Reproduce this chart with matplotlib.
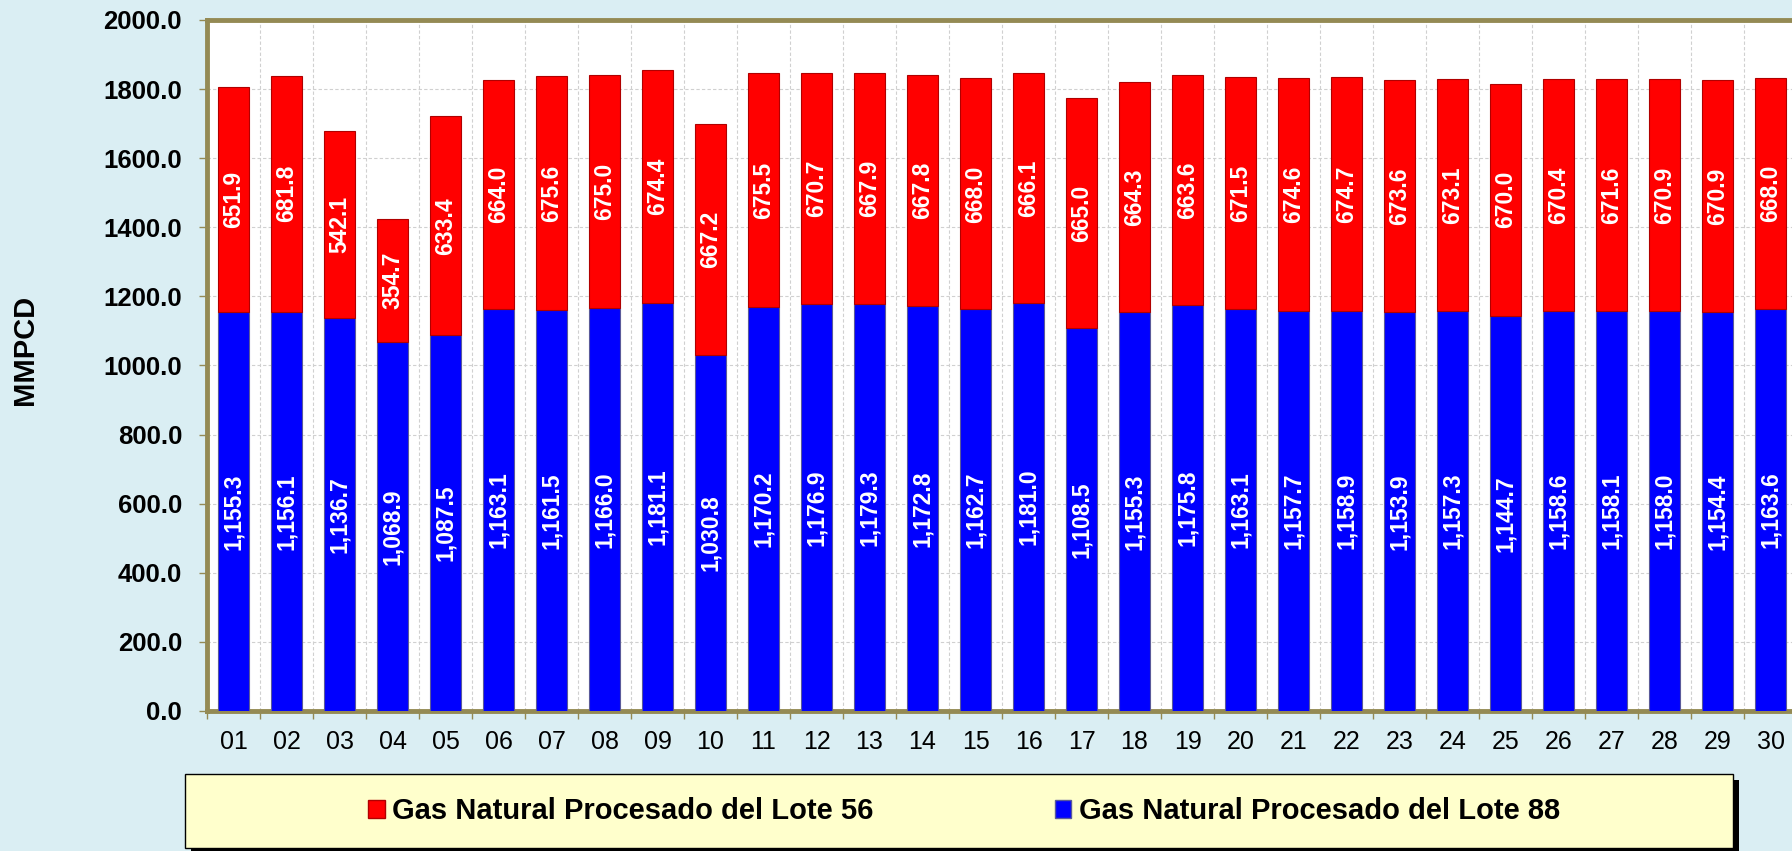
import matplotlib
matplotlib.use("Agg")
import matplotlib.pyplot as plt
from matplotlib.patches import Rectangle, Patch
from matplotlib.ticker import FixedLocator, FuncFormatter, NullFormatter

days = ["01", "02", "03", "04", "05", "06", "07", "08", "09", "10",
        "11", "12", "13", "14", "15", "16", "17", "18", "19", "20",
        "21", "22", "23", "24", "25", "26", "27", "28", "29", "30"]
lote88 = [1155.3, 1156.1, 1136.7, 1068.9, 1087.5, 1163.1, 1161.5, 1166.0, 1181.1, 1030.8,
          1170.2, 1176.9, 1179.3, 1172.8, 1162.7, 1181.0, 1108.5, 1155.3, 1175.8, 1163.1,
          1157.7, 1158.9, 1153.9, 1157.3, 1144.7, 1158.6, 1158.1, 1158.0, 1154.4, 1163.6]
lote56 = [651.9, 681.8, 542.1, 354.7, 633.4, 664.0, 675.6, 675.0, 674.4, 667.2,
          675.5, 670.7, 667.9, 667.8, 668.0, 666.1, 665.0, 664.3, 663.6, 671.5,
          674.6, 674.7, 673.6, 673.1, 670.0, 670.4, 671.6, 670.9, 670.9, 668.0]
label56 = "Gas Natural Procesado del Lote 56"
label88 = "Gas Natural Procesado del Lote 88"
yticks = [0, 200, 400, 600, 800, 1000, 1200, 1400, 1600, 1800, 2000]

FONT = ["Liberation Sans", "DejaVu Sans"]
plt.rcParams["font.family"] = FONT

W, H = 1792, 851
fig = plt.figure(figsize=(W / 100, H / 100), dpi=100)
fig.patch.set_facecolor("#DAEEF3")

ax_left, ax_right, ax_top, ax_bottom = 207, 1797, 20, 711
ax = fig.add_axes([ax_left / W, 1 - ax_bottom / H, (ax_right - ax_left) / W, (ax_bottom - ax_top) / H])
ax.set_facecolor("white")

x = list(range(len(days)))
bw = 0.58
ax.bar(x, lote88, width=bw, color="#0000FF", edgecolor="#5A5A9A", linewidth=0.8, zorder=3)
ax.bar(x, lote56, width=bw, bottom=lote88, color="#FF0000", edgecolor="#B00000", linewidth=0.8, zorder=3)

for i in x:
    ax.text(i, lote88[i] / 2, f"{lote88[i]:,.1f}", rotation=90, ha="center", va="center",
            color="white", fontsize=16.5, fontweight="bold", zorder=4)
    ax.text(i, lote88[i] + lote56[i] / 2, f"{lote56[i]:,.1f}", rotation=90, ha="center", va="center",
            color="white", fontsize=16.5, fontweight="bold", zorder=4)

ax.set_xlim(-0.5, len(days) - 0.5)
ax.set_ylim(0, 2000)
ax.yaxis.set_major_locator(FixedLocator(yticks))
ax.yaxis.set_major_formatter(FuncFormatter(lambda v, p: f"{v:.1f}"))
ax.xaxis.set_major_locator(FixedLocator([i + 0.5 for i in range(-1, len(days))]))
ax.xaxis.set_major_formatter(NullFormatter())
ax.xaxis.set_minor_locator(FixedLocator(x))
ax.set_xticklabels(days, minor=True)

olive = "#948A54"
for s in ax.spines.values():
    s.set_color(olive)
    s.set_linewidth(3.5)

ax.tick_params(axis="y", which="major", length=6, width=1, color=olive, pad=12,
               labelsize=18.5, labelcolor="black")
for t in ax.get_yticklabels():
    t.set_fontweight("bold")
ax.tick_params(axis="x", which="major", length=6, width=1, color=olive)
ax.tick_params(axis="x", which="minor", length=0, pad=14, labelsize=18, labelcolor="black")

ax.grid(True, which="major", axis="both", color="#D0D0D0", linestyle=(0, (3, 2)), linewidth=0.8, zorder=0)
ax.set_axisbelow(True)

fig.text(25 / W, 1 - 350 / H, "MMPCD", rotation=90, ha="center", va="center",
         fontsize=21, fontweight="bold", color="black")

# legend box with shadow
bx0, bx1, by0, by1 = 185, 1733, 774, 848
sh = 6
fig.add_artist(Rectangle(((bx0 + sh) / W, 1 - (by1 + sh) / H), (bx1 - bx0) / W, (by1 - by0) / H,
                         transform=fig.transFigure, facecolor="black", edgecolor="none", zorder=1))
fig.add_artist(Rectangle((bx0 / W, 1 - by1 / H), (bx1 - bx0) / W, (by1 - by0) / H,
                         transform=fig.transFigure, facecolor="#FFFFCC", edgecolor="black",
                         linewidth=1, zorder=2))
handles = [Patch(facecolor="#FF0000", edgecolor="#B00000", label=label56),
           Patch(facecolor="#0000FF", edgecolor="#5A5A9A", label=label88)]
leg = fig.legend(handles=handles, loc="center", bbox_to_anchor=(964 / W, 1 - 811 / H),
                 ncol=2, frameon=False, prop={"family": FONT, "weight": "bold", "size": 21},
                 handlelength=0.58, handleheight=0.58, handletextpad=0.25, columnspacing=6.2,
                 borderpad=0, borderaxespad=0)
leg.set_zorder(3)

fig.savefig("out.png", dpi=100, facecolor=fig.get_facecolor())
